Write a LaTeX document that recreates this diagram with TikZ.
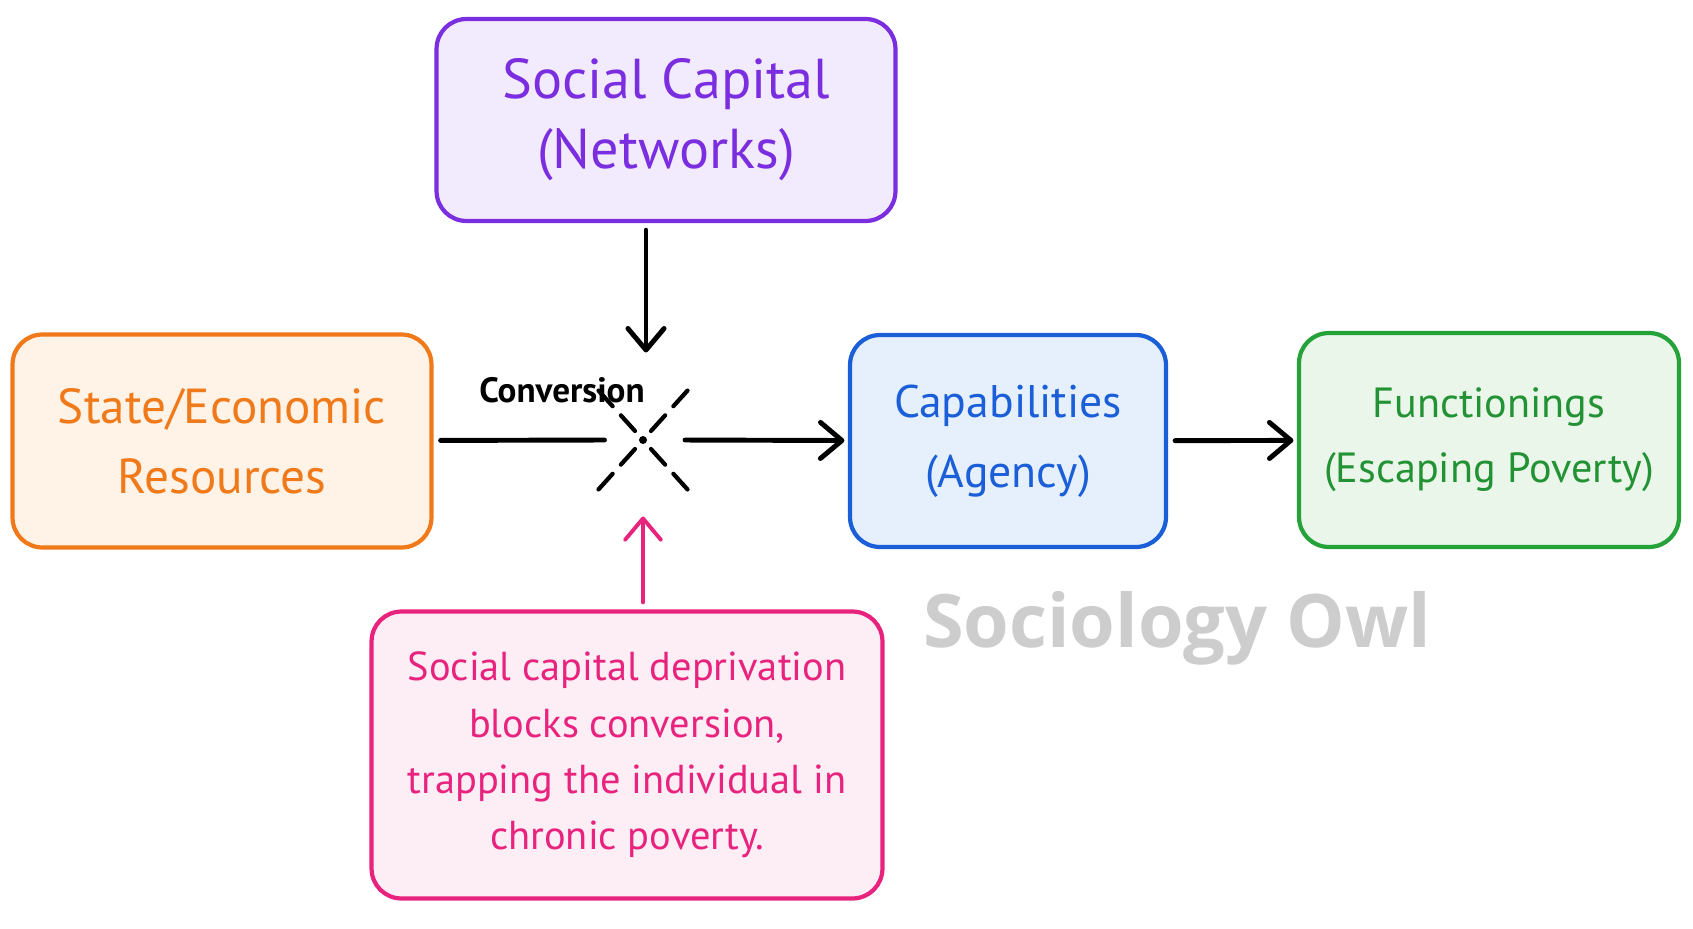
\documentclass[tikz,border=0pt]{standalone}
\usepackage{fontspec}
\setmainfont{PT Sans}
\newfontfamily\wmfont{Open Sans}
\usetikzlibrary{arrows.meta}

\definecolor{purpleline}{HTML}{7A2EE0}
\definecolor{purplefill}{HTML}{F2EBFD}
\definecolor{orangeline}{HTML}{F07A1A}
\definecolor{orangefill}{HTML}{FFF3E7}
\definecolor{blueline}{HTML}{1A5ED8}
\definecolor{bluefill}{HTML}{E6F0FD}
\definecolor{greenline}{HTML}{26A23A}
\definecolor{greenfill}{HTML}{EAF6EA}
\definecolor{pinkline}{HTML}{E8237E}
\definecolor{pinkfill}{HTML}{FDEDF5}
\definecolor{owlgray}{HTML}{CDCDCD}

\begin{document}
\begin{tikzpicture}[x=0.02cm, y=-0.02cm,
	arrows={-Straight Barb[angle=80:16pt, line cap=round, line join=round]},
	box/.style={draw, line width=2.4pt, rounded corners=17pt, align=center, inner sep=0pt},
	link/.style={line width=2.8pt, line cap=round, shorten <=4pt, shorten >=2pt}]
	\useasboundingbox (0,0) rectangle (1693,929);

	\node [box, draw=purpleline, fill=purplefill, text=purpleline, minimum width=9.18cm, minimum height=4.04cm,
		font=\fontsize{32}{40}\selectfont] (SC) at (666,120) {Social Capital\\(Networks)};
	\node [box, draw=orangeline, fill=orangefill, text=orangeline, minimum width=8.38cm, minimum height=4.26cm,
		font=\fontsize{28}{40}\selectfont] (SE) at (222,441) {State/Economic\\Resources};
	\node [box, draw=blueline, fill=bluefill, text=blueline, minimum width=6.32cm, minimum height=4.24cm,
		font=\fontsize{26}{40}\selectfont] (CA) at (1008,441) {Capabilities\\(Agency)};
	\node [box, draw=greenline, fill=greenfill, text=greenline!90!black, minimum width=7.6cm, minimum height=4.28cm,
		font=\fontsize{24}{37}\selectfont] (FU) at (1489,440) {Functionings\\(Escaping Poverty)};
	\node [box, draw=pinkline, fill=pinkfill, text=pinkline, minimum width=10.22cm, minimum height=5.74cm,
		font=\fontsize{23}{32}\selectfont] (PK) at (627,755)
		{Social capital deprivation\\blocks conversion,\\trapping the individual in\\chronic poverty.};

	% conversion point
	\coordinate (conv) at (643,440);
	\coordinate (convL) at (608,440);
	\coordinate (convR) at (678,440);
	\coordinate (convT) at (646,356);
	\coordinate (convB) at (643,513);
	\node [font=\fontsize{20}{24}\selectfont\bfseries] (convtxt) at (562,390) {Conversion};
	\draw [-, line width=2.4pt, line cap=round, dash pattern=on 12pt off 7pt]
		(651,431) -- (688,390) (635,431) -- (598,390)
		(635,449) -- (598,490) (651,449) -- (688,490);
	\fill (conv) circle (4);

	\draw [link, -] (SE) -- (convL);
	\draw [link] (convR) -- (CA);
	\draw [link] (CA) -- (FU);
	\draw [link] (SC.south -| convT) -- (convT);
	\draw [link, pinkline, line width=2.2pt] (PK.north -| convB) -- (convB);

	\node [font=\fontsize{42}{48}\selectfont\wmfont\bfseries, text=owlgray] (owl) at (1177,628) {Sociology Owl};
\end{tikzpicture}
\end{document}
